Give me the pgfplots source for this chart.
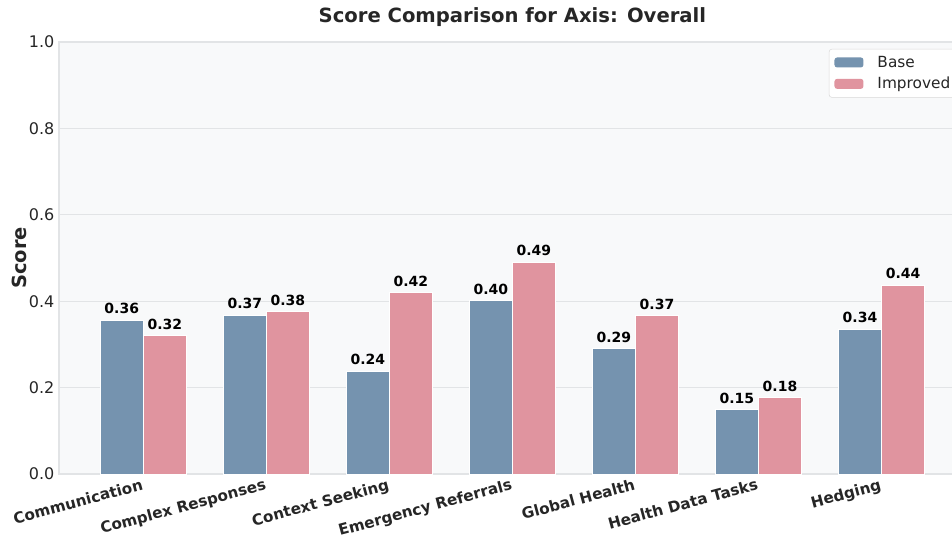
\documentclass[border=0pt]{standalone}
\usepackage{fontspec}
\setmainfont{DejaVu Sans}
\usepackage{pgfplots}
\pgfplotsset{compat=1.18}
\definecolor{basec}{HTML}{7593AF}
\definecolor{impc}{HTML}{E0949F}
\definecolor{bgc}{HTML}{F8F9FA}
\definecolor{gridc}{HTML}{E2E4E6}
\definecolor{txt}{HTML}{262626}

\begin{document}
\begin{tikzpicture}
% one pixel of the 952x537 reference = 0.75pt; the axis runs past the right edge
\path[use as bounding box] (-44.25pt,-47.25pt) rectangle (669.75pt,355.5pt);
\clip (-44.25pt,-47.25pt) rectangle (669.75pt,355.5pt);
\begin{axis}[
    at={(0pt,0pt)}, anchor=south west,
    scale only axis,
    width=680.1pt,
    height=324pt,
    xmin=-0.685, xmax=6.685,
    ymin=0, ymax=1,
    ybar,
    bar width=0.35,
    xtick={0,1,2,3,4,5,6},
    xticklabels={Communication,Complex Responses,Context Seeking,Emergency Referrals,Global Health,Health Data Tasks,Hedging},
    xticklabel style={rotate=15, anchor=north east, font=\fontsize{11.4}{13}\selectfont\bfseries, text=txt, inner sep=1pt, yshift=-1.5pt, xshift=-1.5pt},
    ytick={0,0.2,0.4,0.6,0.8,1.0},
    yticklabel style={font=\fontsize{12}{14}\selectfont, text=txt, /pgf/number format/fixed, /pgf/number format/fixed zerofill, /pgf/number format/precision=1, /pgf/number format/assume math mode=true},
    major tick length=0pt,
    ymajorgrids=true,
    grid style={gridc, line width=0.6pt},
    axis line style={draw=gridc, line width=0.8pt},
    axis background/.style={fill=bgc},
    title={Score Comparison for Axis: Overall},
    title style={font=\fontsize{14.7}{17}\selectfont\bfseries, text=txt, yshift=2pt},
    ylabel={Score},
    ylabel style={font=\fontsize{14.6}{17}\selectfont\bfseries, text=txt, yshift=-5pt},
    legend cell align=left,
    legend style={at={(0.849,0.984)}, anchor=north west, draw=black!15, rounded corners=2pt, fill=white,
        font=\fontsize{11.5}{13}\selectfont, text=txt, inner xsep=4pt, inner ysep=3pt, row sep=2pt, column sep=8.5pt},
    legend image code/.code={\fill[#1, draw=none] (0pt,-3.75pt) rectangle (21.75pt,3.75pt);},
    nodes near coords,
    point meta=explicit symbolic,
    every node near coord/.append style={font=\fontsize{10.5}{12}\selectfont\bfseries, text=black, anchor=south, yshift=1pt},
]
\addplot[fill=basec, draw=white, line width=0.75pt, bar shift=-0.175] coordinates {
    (0,0.356) [0.36]
    (1,0.367) [0.37]
    (2,0.238) [0.24]
    (3,0.401) [0.40]
    (4,0.290) [0.29]
    (5,0.149) [0.15]
    (6,0.335) [0.34]
};
\addplot[fill=impc, draw=white, line width=0.75pt, bar shift=0.175] coordinates {
    (0,0.320) [0.32]
    (1,0.376) [0.38]
    (2,0.420) [0.42]
    (3,0.490) [0.49]
    (4,0.366) [0.37]
    (5,0.176) [0.18]
    (6,0.437) [0.44]
};
\legend{Base,Improved}
\end{axis}
\end{tikzpicture}
\end{document}
